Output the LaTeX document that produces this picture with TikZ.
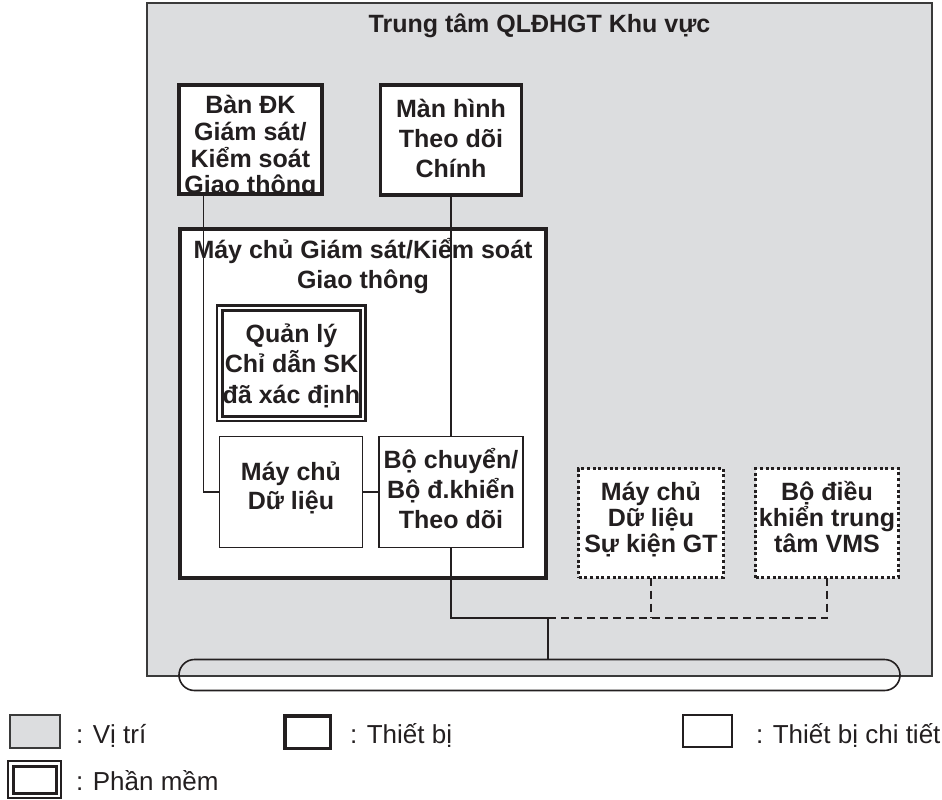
\documentclass[tikz,border=0pt]{standalone}
\usepackage{fontspec}
\setmainfont{Liberation Sans}
\usetikzlibrary{calc}
\definecolor{locfill}{HTML}{DCDDDF}
\definecolor{ink}{HTML}{231F20}
\definecolor{locline}{HTML}{3A3A3A}
\newcommand\mlines[2]{\vtop{\baselineskip=#1\relax\lineskiplimit=-\maxdimen\lineskip=0pt\halign{\hfil##\hfil\cr#2\crcr}}}
\begin{document}
\begin{tikzpicture}[x=1pt,y=-1pt,
 every node/.style={outer sep=0pt, inner sep=0pt},
 locbox/.style={draw=locline, fill=locfill, line width=1.5pt},
 devbox/.style={draw=ink, fill=white, line width=3.5pt},
 detbox/.style={draw=ink, fill=white, line width=1.3pt},
 dotbox/.style={draw=ink, fill=white, line width=3pt, dash pattern=on 3pt off 2.7pt},
 swouter/.style={draw=ink, fill=white, line width=2.3pt},
 swinner/.style={draw=ink, line width=3pt},
 lbl/.style={font=\bfseries\fontsize{25}{30}\selectfont, text=ink},
 leg/.style={font=\fontsize{26}{31}\selectfont, text=ink, anchor=base west},
 conn/.style={draw=ink, line width=1.3pt},
 dconn/.style={draw=ink, line width=1.3pt, dash pattern=on 8pt off 5pt},
 busline/.style={draw=ink, line width=1.6pt, rounded corners=15.5pt},
]
\useasboundingbox (0,0) rectangle (942,800);
\node[locbox, minimum width=785pt, minimum height=673pt] (loc) at (539.5,339.5) {};
\node[lbl, anchor=base] (title) at (539.5,33) {Trung tâm QLĐHGT Khu vực};

\node[devbox, minimum width=143.3pt, minimum height=109pt] (A) at (250.4,139.5) {};
\node[devbox, minimum width=141pt, minimum height=110pt] (B) at (451,140) {};
\node[devbox, minimum width=366pt, minimum height=349pt] (C) at (363,403.5) {};
\node[swouter, minimum width=148.3pt, minimum height=115.8pt] (D) at (291.4,363.4) {};
\node[swinner, minimum width=138.7pt, minimum height=106pt] (Din) at (291.6,363.7) {};
\node[detbox, minimum width=143pt, minimum height=111pt] (E) at (291,492) {};
\node[detbox, minimum width=144pt, minimum height=111pt] (F) at (451,492) {};
\node[dotbox, minimum width=145pt, minimum height=109pt] (G) at (651,523) {};
\node[dotbox, minimum width=143pt, minimum height=109pt] (H) at (827,523) {};

\begin{scope}
\clip (A.south west) rectangle (A.north east);
\node[lbl, anchor=base] (tA) at (250.4,113) {\mlines{27pt}{Bàn ĐK\cr Giám sát/\cr Kiểm soát\cr Giao thông}};
\end{scope}
\draw[draw=ink, line width=3.5pt] (A.south west) rectangle (A.north east);

\node[lbl, anchor=base] (tB) at (451,117) {\mlines{30pt}{Màn hình\cr Theo dõi\cr Chính}};
\node[lbl, anchor=base] (tC) at (363,258) {\mlines{30pt}{Máy chủ Giám sát/Kiểm soát\cr Giao thông}};
\node[lbl, anchor=base] (tD) at (291.5,342) {\mlines{30.5pt}{Quản lý\cr Chỉ dẫn SK\cr đã xác định}};
\node[lbl, anchor=base] (tE) at (291,480) {\mlines{29pt}{Máy chủ\cr Dữ liệu}};
\node[lbl, anchor=base] (tF) at (451,468) {\mlines{30pt}{Bộ chuyển/\cr Bộ đ.khiển\cr Theo dõi}};
\node[lbl, anchor=base] (tG) at (651,500) {\mlines{26pt}{Máy chủ\cr Dữ liệu\cr Sự kiện GT}};
\node[lbl, anchor=base] (tH) at (827,500) {\mlines{26pt}{Bộ điều\cr khiển trung\cr tâm VMS}};

\node[busline, minimum width=721pt, minimum height=31pt] (bus) at (539.5,675) {};

\draw[conn] ([xshift=24.5pt]A.south west) |- (E.west);
\draw[conn] (B.south) -- (F.north);
\draw[conn] (E.east) -- (F.west);
\coordinate (jn) at (548,618);
\draw[conn] (F.south) |- (jn) -- (jn |- bus.north);
\draw[dconn] (G.south) -- (G.south |- jn);
\draw[dconn] (H.south) |- (jn);

\node[draw=locline, fill=locfill, line width=1.3pt, minimum width=50pt, minimum height=33pt] (k1) at (35,731.5) {};
\node[leg] (k1t) at (76,743) {: Vị trí};
\node[devbox, minimum width=45.5pt, minimum height=32.5pt] (k2) at (307.5,732) {};
\node[leg] (k2t) at (350,743) {: Thiết bị};
\node[detbox, minimum width=49pt, minimum height=32pt] (k3) at (707.5,731) {};
\node[leg] (k3t) at (756,743) {: Thiết bị chi tiết};
\node[swouter, minimum width=53pt, minimum height=37pt] (k4) at (34.5,779.5) {};
\node[swinner, minimum width=43pt, minimum height=27pt] (k4in) at (34.5,779.5) {};
\node[leg] (k4t) at (76,790) {: Phần mềm};
\end{tikzpicture}
\end{document}
